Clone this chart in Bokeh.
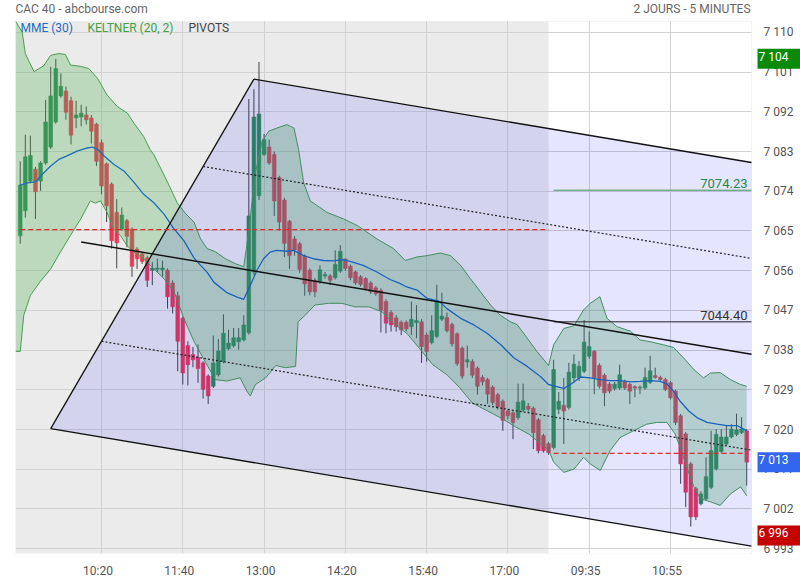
from bokeh.plotting import figure
from bokeh.models import Range1d, FixedTicker, Label, BoxAnnotation, ColumnDataSource
from bokeh.embed import file_html
from bokeh.resources import INLINE

FONT = "Roboto"

# ---------------- data ----------------
# Day 1: 5-minute bars from 09:00 (index 0) ; Day 2 follows directly
d1_open = [7063.9, 7069.6, 7076.3, 7079.0, 7076.3, 7080.4, 7084.0, 7089.7, 7095.6, 7096.7,
           7094.5, 7090.6, 7090.8, 7091.3, 7090.6, 7089.2, 7085.0, 7080.2, 7075.6, 7069.2,
           7065.4, 7067.3, 7065.4, 7060.9, 7059.8, 7058.9, 7056.1, 7056.3, 7056.2, 7056.1,
           7053.2, 7050.3, 7045.2, 7039.0, 7037.0, 7036.4, 7035.1, 7032.1, 7029.8, 7032.4,
           7035.4, 7038.3, 7039.0, 7039.9, 7040.3, 7041.9, 7055.7, 7073.0, 7082.3, 7084.0,
           7082.3, 7077.1, 7072.0, 7067.2, 7063.2, 7062.1, 7059.3, 7056.1, 7053.8, 7053.6,
           7054.8, 7054.8, 7054.4, 7055.9, 7058.6, 7057.0, 7055.7, 7054.6, 7054.2, 7053.2,
           7052.1, 7051.5, 7049.0, 7046.5, 7045.3, 7044.3, 7044.3, 7043.3, 7044.2, 7044.4,
           7041.4, 7039.7, 7041.1, 7045.0, 7045.4, 7043.8, 7041.7, 7038.4, 7035.3, 7035.4,
           7033.9, 7031.8, 7031.3, 7029.6, 7027.9, 7026.4, 7024.2, 7023.8, 7022.7, 7024.4,
           7025.3, 7024.8, 7022.2, 7018.6, 7016.8]
d1_high = [7080.8, 7086.8, 7086.6, 7079.5, 7080.8, 7094.7, 7102.2, 7104.0, 7100.7, 7097.7,
           7095.4, 7094.5, 7093.6, 7093.2, 7091.3, 7089.5, 7085.7, 7080.5, 7076.0, 7072.2,
           7070.3, 7067.7, 7065.8, 7061.3, 7060.3, 7059.4, 7058.0, 7058.7, 7058.3, 7056.5,
           7053.8, 7051.2, 7045.6, 7040.0, 7038.7, 7039.3, 7035.5, 7032.5, 7041.3, 7040.5,
           7046.1, 7042.6, 7043.0, 7043.0, 7045.9, 7094.9, 7097.1, 7103.3, 7087.0, 7085.7,
           7083.0, 7077.5, 7072.5, 7067.5, 7063.8, 7062.5, 7059.7, 7056.5, 7054.3, 7057.2,
           7055.7, 7055.2, 7060.6, 7061.8, 7058.8, 7057.4, 7056.0, 7055.0, 7054.5, 7053.6,
           7052.5, 7052.0, 7049.5, 7047.0, 7045.9, 7044.7, 7044.7, 7049.0, 7048.2, 7045.0,
           7042.0, 7045.9, 7052.8, 7051.0, 7046.5, 7044.2, 7042.0, 7038.8, 7039.0, 7035.9,
           7034.3, 7032.3, 7031.7, 7030.0, 7028.3, 7026.8, 7024.6, 7024.2, 7030.4, 7030.4,
           7026.0, 7025.2, 7022.6, 7019.0, 7017.2]
d1_low = [7062.1, 7068.0, 7075.8, 7067.7, 7074.1, 7080.0, 7083.6, 7089.3, 7095.2, 7090.2,
          7084.6, 7088.3, 7088.7, 7089.1, 7084.8, 7079.7, 7073.3, 7067.0, 7061.0, 7056.5,
          7065.0, 7061.3, 7054.6, 7056.4, 7057.5, 7052.3, 7052.7, 7055.7, 7054.6, 7047.4,
          7046.3, 7033.2, 7030.2, 7030.0, 7034.1, 7030.6, 7027.0, 7025.8, 7029.4, 7032.0,
          7035.0, 7038.0, 7038.6, 7038.1, 7040.0, 7041.5, 7055.0, 7072.0, 7082.0, 7080.0,
          7068.4, 7065.1, 7059.1, 7056.4, 7059.4, 7055.5, 7050.3, 7050.4, 7050.0, 7053.0,
          7054.2, 7052.7, 7054.0, 7055.5, 7056.0, 7053.8, 7052.8, 7052.4, 7051.5, 7050.7,
          7050.3, 7042.0, 7041.8, 7042.2, 7042.2, 7041.4, 7042.2, 7041.4, 7040.7, 7035.1,
          7035.4, 7039.3, 7040.7, 7044.6, 7042.0, 7038.8, 7034.4, 7031.5, 7034.0, 7031.7,
          7027.9, 7030.0, 7025.8, 7025.5, 7024.5, 7019.7, 7022.3, 7017.8, 7022.2, 7024.0,
          7024.0, 7015.6, 7014.6, 7014.8, 7014.3]
d1_close = [7075.4, 7081.8, 7082.1, 7073.9, 7080.4, 7089.7, 7095.6, 7101.8, 7097.8, 7091.9,
            7086.7, 7091.3, 7091.7, 7090.2, 7087.6, 7080.8, 7075.2, 7070.7, 7062.8, 7062.3,
            7068.6, 7063.8, 7057.0, 7058.7, 7058.1, 7053.8, 7056.6, 7056.6, 7056.6, 7050.1,
            7047.8, 7040.0, 7032.8, 7034.7, 7035.8, 7033.8, 7029.1, 7027.6, 7035.1, 7037.8,
            7041.8, 7039.6, 7040.8, 7040.8, 7043.7, 7068.4, 7090.8, 7091.5, 7085.7, 7080.4,
            7071.8, 7067.0, 7062.2, 7059.4, 7060.7, 7056.3, 7053.0, 7051.2, 7051.2, 7056.2,
            7055.1, 7053.8, 7057.4, 7060.4, 7056.5, 7054.4, 7053.2, 7052.9, 7051.9, 7051.2,
            7050.8, 7047.0, 7044.1, 7043.7, 7043.3, 7042.6, 7042.8, 7045.0, 7044.7, 7038.8,
            7037.7, 7042.4, 7049.1, 7045.7, 7042.4, 7039.4, 7034.9, 7032.1, 7035.8, 7032.3,
            7029.8, 7030.8, 7028.0, 7026.1, 7025.1, 7022.1, 7023.1, 7021.6, 7026.2, 7026.5,
            7024.6, 7019.3, 7015.2, 7015.2, 7014.8]

d2_open = [7015.9, 7024.6, 7025.5, 7025.0, 7031.7, 7031.7, 7033.2, 7036.6, 7037.7, 7034.5,
           7032.3, 7030.3, 7029.3, 7029.4, 7030.9, 7030.2, 7029.7, 7029.4, 7029.4, 7030.7,
           7032.2, 7031.8, 7031.3, 7030.6, 7028.7, 7023.1, 7019.0, 7012.2, 7006.6, 7003.2,
           7004.3, 7006.9, 7011.1, 7015.0, 7016.7, 7018.3, 7018.9, 7019.3, 7019.7]
d2_high = [7035.8, 7028.5, 7031.7, 7035.1, 7037.0, 7035.5, 7044.8, 7042.2, 7038.0, 7035.0,
           7032.7, 7030.7, 7030.8, 7034.7, 7031.3, 7030.6, 7030.0, 7030.0, 7034.0, 7036.7,
           7034.0, 7032.2, 7031.7, 7031.0, 7029.0, 7023.5, 7019.4, 7012.6, 7007.0, 7006.0,
           7013.7, 7019.7, 7020.1, 7020.1, 7020.8, 7021.2, 7023.6, 7022.8, 7020.1]
d2_low = [7015.5, 7023.5, 7016.7, 7024.5, 7030.5, 7031.0, 7032.8, 7036.0, 7028.0, 7029.3,
          7025.3, 7028.2, 7028.8, 7029.0, 7029.0, 7025.8, 7027.3, 7028.0, 7029.0, 7030.3,
          7031.5, 7031.0, 7028.7, 7026.8, 7021.0, 7007.7, 7002.4, 6998.0, 6999.5, 7002.8,
          7004.0, 7006.5, 7010.7, 7014.6, 7016.3, 7018.0, 7018.5, 7019.0, 7007.3]
d2_close = [7033.6, 7026.4, 7024.2, 7033.0, 7034.8, 7034.3, 7039.8, 7038.8, 7031.7, 7029.8,
            7028.3, 7028.7, 7030.3, 7032.4, 7029.4, 7028.7, 7029.4, 7029.6, 7031.8, 7033.3,
            7031.8, 7031.3, 7029.1, 7027.2, 7021.6, 7012.2, 7005.8, 7000.2, 7000.2, 7005.4,
            7009.3, 7015.2, 7018.9, 7018.3, 7018.3, 7020.1, 7019.9, 7020.1, 7012.6]

# MME (30) read at sample bar positions
mme_x = [0, 1.4, 3, 4.3, 6, 7.6, 9.2, 11.2, 13.2, 14.2, 15.2, 16.5, 18.4, 20.4, 22.4, 24.3,
         26.3, 28.3, 30.2, 32.2, 34.2, 35.5, 36.8, 38.1, 40.7, 42.7, 44.0, 45.3, 46.6, 47.9,
         49.2, 50.5, 52.5, 53.8, 55.8, 57.7, 59.7, 61.6, 63.6, 65.6, 67.5, 70.2, 72.8, 74.7,
         76.1, 78.1, 80.1, 82.4, 84.0, 86.7, 89.3, 91.9, 94.6, 97.2, 99.8, 102.4, 104.0, 105.4,
         107.0, 108.3, 110.3, 112.2, 114.2, 116.1, 118.1, 120.1, 122.0, 124.0, 126.0, 127.3,
         128.6, 129.9, 131.6, 133.2, 135.2, 137.2, 139.1, 141.1, 142.4, 143.0]
mme_y = [7075.4, 7075.9, 7076.1, 7077.8, 7079.7, 7081.2, 7082.0, 7083.1, 7083.8, 7084.0,
         7083.5, 7082.0, 7080.1, 7078.6, 7076.0, 7073.3, 7071.4, 7068.8, 7065.6, 7062.8,
         7058.9, 7057.2, 7055.6, 7053.4, 7051.0, 7050.0, 7049.5, 7052.7, 7056.1, 7058.7,
         7060.2, 7060.6, 7060.4, 7060.6, 7059.4, 7058.7, 7058.3, 7058.2, 7058.5, 7057.9,
         7057.2, 7055.7, 7054.0, 7053.1, 7052.3, 7051.6, 7049.7, 7049.1, 7047.4, 7045.2,
         7043.7, 7041.8, 7039.2, 7036.2, 7034.3, 7032.0, 7030.2, 7029.8, 7029.3, 7030.2,
         7031.9, 7031.7, 7031.3, 7031.1, 7031.1, 7030.8, 7030.9, 7031.1, 7030.9, 7030.3,
         7028.7, 7026.4, 7024.2, 7022.7, 7021.6, 7021.2, 7020.9, 7020.9, 7020.1, 7019.7]

# Keltner (20, 2) upper / lower bands read at sample bar positions
kup_x = [-0.9, 0.4, 1.0, 2.7, 3.7, 4.6, 6.0, 7.6, 8.9, 9.9, 11.9, 13.5, 15.2, 17.1, 19.1, 21.1,
         22.4, 24.3, 25.6, 26.3, 28.9, 30.9, 32.5, 34.2, 35.5, 36.8, 38.4, 40.4, 42.5, 44.0,
         44.6, 45.3, 46.3, 47.6, 48.9, 50.5, 52.5, 53.9, 54.8, 55.8, 57.1, 60.4, 63.7, 66.4,
         70.2, 73.5, 75.8, 78.1, 80.1, 82.7, 84.7, 86.7, 88.6, 90.6, 92.6, 94.5, 96.5, 97.8,
         99.8, 101.7, 104.0, 105.0, 107.0, 109.0, 110.9, 112.2, 114.1, 115.5, 117.5, 120.1,
         122.0, 124.0, 126.6, 128.6, 130.6, 132.6, 134.5, 135.9, 137.8, 139.8, 141.8, 143.0]
kup_y = [7118.0, 7110.0, 7105.2, 7101.1, 7101.8, 7102.4, 7104.8, 7105.2, 7105.0, 7102.6,
         7102.3, 7101.8, 7099.6, 7095.8, 7093.2, 7091.7, 7089.4, 7086.4, 7083.4, 7082.3,
         7076.3, 7071.4, 7069.0, 7067.0, 7063.2, 7061.0, 7060.3, 7058.7, 7057.5, 7056.9,
         7061.7, 7068.4, 7078.2, 7085.3, 7087.6, 7088.3, 7089.1, 7088.3, 7083.4, 7075.9,
         7071.8, 7069.2, 7067.7, 7066.2, 7063.2, 7061.0, 7058.3, 7059.1, 7059.4, 7060.0,
         7059.4, 7057.2, 7054.2, 7051.2, 7048.2, 7045.9, 7044.4, 7043.8, 7040.7, 7037.7,
         7034.5, 7039.2, 7042.9, 7043.5, 7047.1, 7048.6, 7050.1, 7045.2, 7043.3, 7042.3,
         7040.3, 7039.9, 7039.2, 7038.6, 7036.2, 7033.6, 7031.7, 7032.8, 7032.9, 7031.3,
         7030.2, 7029.8]
klo_x = [-0.9, 0.0, 0.7, 2.0, 4.0, 6.0, 7.9, 9.9, 11.9, 13.8, 14.8, 15.8, 17.1, 18.4, 19.7,
         21.0, 22.4, 24.3, 26.3, 28.3, 30.3, 32.2, 34.2, 36.2, 38.4, 40.7, 43.3, 44.6, 45.3,
         46.3, 48.3, 50.3, 52.2, 54.2, 54.7, 56.1, 58.0, 60.7, 63.3, 65.9, 68.6, 71.2, 73.3,
         76.1, 78.5, 81.2, 84.0, 86.5, 89.0, 92.0, 94.8, 97.5, 100.2, 102.7, 104.0, 105.0,
         107.0, 109.0, 110.9, 112.2, 114.2, 116.1, 118.1, 120.7, 123.3, 125.3, 127.3, 128.9,
         129.9, 131.2, 132.6, 133.9, 135.9, 137.8, 139.8, 141.8, 143.0]
klo_y = [7037.7, 7037.7, 7045.9, 7050.4, 7053.6, 7056.4, 7060.2, 7064.0, 7067.7, 7071.8,
         7071.3, 7071.8, 7069.2, 7065.4, 7064.0, 7061.7, 7060.2, 7058.7, 7056.4, 7054.2,
         7051.2, 7045.2, 7040.0, 7035.8, 7031.3, 7031.0, 7031.7, 7028.7, 7027.6, 7030.2,
         7031.7, 7034.5, 7034.0, 7034.3, 7044.4, 7045.9, 7048.2, 7048.6, 7048.6, 7047.8,
         7047.8, 7046.7, 7044.2, 7041.8, 7038.5, 7034.7, 7032.4, 7029.5, 7026.0, 7024.2,
         7022.5, 7020.6, 7018.9, 7016.5, 7015.4, 7012.6, 7010.3, 7011.0, 7013.7, 7012.2,
         7010.7, 7015.2, 7018.2, 7019.7, 7021.2, 7021.6, 7021.6, 7019.0, 7016.0, 7011.5,
         7007.0, 7004.3, 7003.6, 7002.8, 7005.4, 7007.0, 7005.0]

# daily pivots
pivot_day1 = 7065.3
pivot_day2 = 7014.6
# horizontal levels (day 2)
level_values = [7074.23, 7044.40]
level_labels = ["7074.23", "7044.40"]
level_colors = ["#3f9a55", "#222222"]
level_text_colors = ["#23894a", "#333333"]

# pitchfork anchors (bar index, price)
pf_p0 = (12, 7062.5)
pf_a = (6, 7020.2)
pf_b = (46, 7099.4)

# price tags on the right axis
day_high_tag = 7104
low_tag = 6996

# axes
x_tick_idx = [16, 32, 48, 64, 80, 96, 112, 128]
x_tick_lbl = ["10:20", "11:40", "13:00", "14:20", "15:40", "17:00", "09:35", "10:55"]
y_ticks = [6993, 7002, 7011, 7020, 7029, 7038, 7047, 7056, 7065, 7074, 7083, 7092, 7101, 7110]
y_tick_lbl = ["6 993", "7 002", "7 011", "7 020", "7 029", "7 038", "7 047", "7 056",
              "7 065", "7 074", "7 083", "7 092", "7 101", "7 110"]

# ---------------- build ----------------
opens = d1_open + d2_open
highs = d1_high + d2_high
lows = d1_low + d2_low
closes = d1_close + d2_close
n = len(opens)
n1 = len(d1_open)
idx = list(range(n))

# visible chart area (bars) and price window
X0, XE = -0.93, 143.95
Y0, YE = 6991.9, 7112.5
PX_PER_BAR = 5.08
PX_PER_PT = 40 / 9
# the canvas area right of / above the chart holds the axis labels, tags and header
X1 = XE + 49 / PX_PER_BAR
Y1 = YE + 21 / PX_PER_PT
# time labels sit a few pixels left of their grid lines in the original
LABEL_SHIFT = 3.5 / PX_PER_BAR

GREEN = "#2e8b57"
RED = "#e33b57"

p = figure(width=800, height=580, output_backend="svg", toolbar_location=None,
           x_range=Range1d(X0, X1), y_range=Range1d(Y0, Y1),
           y_axis_location="right",
           min_border_left=15, min_border_right=0, min_border_top=0, min_border_bottom=23)
p.background_fill_color = "white"
p.border_fill_color = "white"
p.outline_line_color = None

x_lab_pos = [t - LABEL_SHIFT for t in x_tick_idx]
p.xaxis.ticker = FixedTicker(ticks=x_lab_pos)
p.xgrid.ticker = FixedTicker(ticks=x_tick_idx)
yt = FixedTicker(ticks=y_ticks)
p.yaxis.ticker = yt
p.ygrid.ticker = yt
p.yaxis.fixed_location = XE
p.xaxis.major_label_overrides = {t: s for t, s in zip(x_lab_pos, x_tick_lbl)}
p.yaxis.major_label_overrides = {t: s for t, s in zip(y_ticks, y_tick_lbl)}
for ax in (p.xaxis[0], p.yaxis[0]):
    ax.axis_line_color = None
    ax.major_tick_line_color = None
    ax.minor_tick_line_color = None
    ax.major_label_text_font = FONT
    ax.major_label_text_font_size = "12px"
    ax.major_label_text_color = "#555555"
p.xaxis.major_label_standoff = 4
p.yaxis.major_label_standoff = 6
p.grid.grid_line_color = "#d2d2d2"
p.grid.grid_line_width = 1

# day 1 grey background
p.add_layout(BoxAnnotation(right=n1 - 1, top=YE, fill_color="#ebebeb", fill_alpha=1.0,
                           line_alpha=0, level="image"))
# keep the margins (axis-label strip on the right, header strip on top) plain white
p.add_layout(BoxAnnotation(left=XE, fill_color="white", fill_alpha=1.0, line_alpha=0,
                           level="underlay"))
p.add_layout(BoxAnnotation(bottom=YE, fill_color="white", fill_alpha=1.0, line_alpha=0,
                           level="underlay"))
# light frame around the chart area
p.add_layout(BoxAnnotation(right=XE, top=YE, fill_alpha=0, line_color="#d6d6d6",
                           line_width=1, level="underlay"))

# candles
src = ColumnDataSource(dict(
    x=idx, h=highs, l=lows,
    top=[max(o, c) for o, c in zip(opens, closes)],
    bot=[min(o, c) for o, c in zip(opens, closes)],
    col=[GREEN if c >= o else RED for o, c in zip(opens, closes)],
))
p.segment(x0="x", y0="h", x1="x", y1="l", source=src, line_color="#444444", line_width=1)
p.vbar(x="x", width=0.72, top="top", bottom="bot", source=src,
       fill_color="col", line_color="col", line_width=0.6)

# Keltner band (clipped to the chart window at the top)
kup_vis = [min(v, YE) for v in kup_y]
p.patch(kup_x + klo_x[::-1], kup_vis + klo_y[::-1], fill_color="#4eaf55", fill_alpha=0.3,
        line_color=None)
p.line(kup_x, kup_vis, line_color="#4b9d4f", line_width=1)
p.line(klo_x, klo_y, line_color="#4b9d4f", line_width=1)

# MME
p.line(mme_x, mme_y, line_color="#1f6db5", line_width=1.3)

# pitchfork
mid = ((pf_a[0] + pf_b[0]) / 2, (pf_a[1] + pf_b[1]) / 2)
slope = (mid[1] - pf_p0[1]) / (mid[0] - pf_p0[0])


def at_end(pt):
    return pt[1] + slope * (XE - pt[0])


up_end = at_end(pf_b)
lo_end = at_end(pf_a)
p.patch([pf_a[0], pf_b[0], XE, XE], [pf_a[1], pf_b[1], up_end, lo_end],
        fill_color="#0000ff", fill_alpha=0.1, line_color=None)
p.line([pf_a[0], pf_b[0]], [pf_a[1], pf_b[1]], line_color="#111111", line_width=1.3)
p.line([pf_b[0], XE], [pf_b[1], up_end], line_color="#111111", line_width=1.3)
p.line([pf_a[0], XE], [pf_a[1], lo_end], line_color="#111111", line_width=1.3)
p.line([pf_p0[0], XE], [pf_p0[1], at_end(pf_p0)], line_color="#111111", line_width=1.4)
for t in (0.25, 0.75):
    q = (pf_a[0] + t * (pf_b[0] - pf_a[0]), pf_a[1] + t * (pf_b[1] - pf_a[1]))
    p.line([q[0], XE], [q[1], at_end(q)], line_color="#222222", line_width=1.2,
           line_dash="2 2")

# pivots
p.line([0, n1 - 1], [pivot_day1, pivot_day1], line_color="#e02828", line_width=1.2,
       line_dash="5 3")
p.line([n1, n - 1], [pivot_day2, pivot_day2], line_color="#e02828", line_width=1.2,
       line_dash="5 3")

# horizontal levels
for v, lbl, lc, tc in zip(level_values, level_labels, level_colors, level_text_colors):
    p.line([n1, XE], [v, v], line_color=lc, line_width=1)
    p.add_layout(Label(x=732, y=v, x_units="screen", text=lbl, text_align="right",
                       text_baseline="bottom", y_offset=2, text_color=tc,
                       text_font=FONT, text_font_size="13px"))

# legend row (inside the chart area)
for xs, txt, col in ((5, "MME (30)", "#1e6cc4"), (72, "KELTNER (20, 2)", "#43a047"),
                     (173, "PIVOTS", "#444444")):
    p.add_layout(Label(x=xs, y=7110.9, x_units="screen", text=txt, text_baseline="middle",
                       text_color=col, text_font=FONT, text_font_size="12px"))

# header texts
p.add_layout(Label(x=0, y=7115.4, x_units="screen", text="CAC 40 - abcbourse.com",
                   text_baseline="middle", text_color="#666666", text_font=FONT,
                   text_font_size="12px"))
p.add_layout(Label(x=735, y=7115.4, x_units="screen", text="2 JOURS - 5 MINUTES",
                   text_align="right", text_baseline="middle", text_color="#666666",
                   text_font=FONT, text_font_size="12px"))


# price tags next to the price axis
def fmt(v):
    s = str(int(round(v)))
    return s[0] + " " + s[1:]


for v, bg in ((day_high_tag, "#0a8a0a"), (closes[-1], "#3366ee"), (low_tag, "#c40000")):
    p.add_layout(Label(x=742, y=v, x_units="screen", text=fmt(v), text_baseline="middle",
                       text_color="white", text_font=FONT, text_font_size="12px",
                       background_fill_color=bg, padding=(1, 16, 1, 5)))

open("out.html", "w").write(file_html(p, INLINE))
